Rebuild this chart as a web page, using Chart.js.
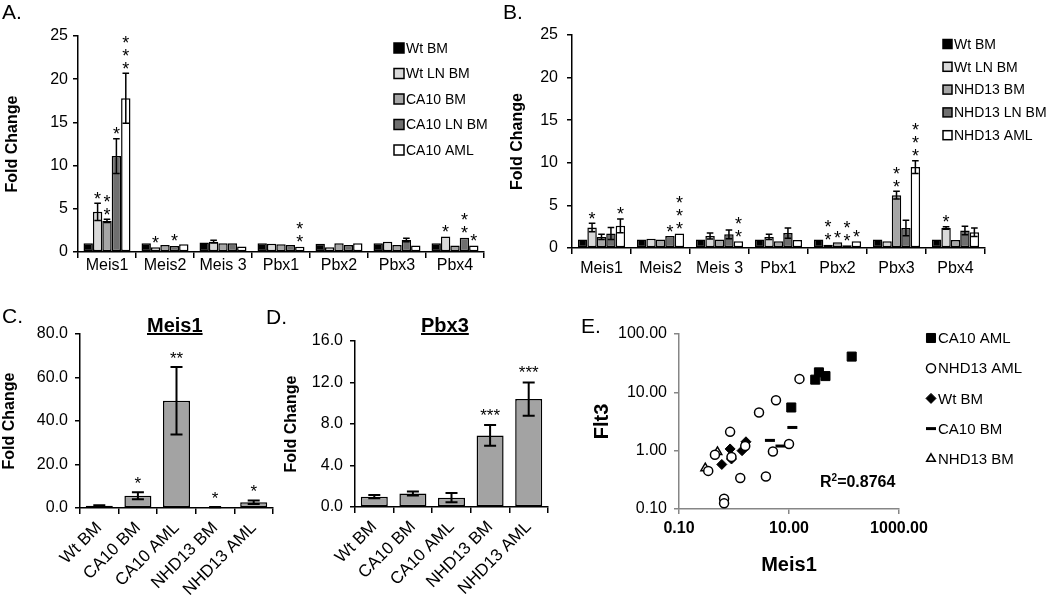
<!DOCTYPE html>
<html>
<head>
<meta charset="utf-8">
<script src="https://cdn.jsdelivr.net/npm/chart.js@4/dist/chart.umd.min.js"></script>
<style>
  body { margin: 0; background: #fff; font-family: 'Liberation Sans', Arial, sans-serif; }
  #page { position: relative; width: 1050px; height: 595px; overflow: hidden; }
  canvas, .lbl { position: absolute; }
  .lbl { font-size: 21px; line-height: 1; color: #000; white-space: nowrap; }
  .ttl { font-size: 20px; font-weight: bold; text-decoration: underline; }
  .r2 { font-size: 16px; font-weight: bold; }
</style>
</head>
<body>
<div id="page">
  <canvas id="chartA" width="500" height="290" style="left:0px;top:0px"></canvas>
  <canvas id="chartB" width="550" height="290" style="left:500px;top:0px"></canvas>
  <canvas id="chartC" width="280" height="305" style="left:0px;top:290px"></canvas>
  <canvas id="chartD" width="280" height="305" style="left:280px;top:290px"></canvas>
  <canvas id="chartE" width="490" height="305" style="left:560px;top:290px"></canvas>

  <div class="lbl" style="left:2px;top:1px">A.</div>
  <div class="lbl" style="left:503px;top:1px">B.</div>
  <div class="lbl" style="left:2px;top:305px">C.</div>
  <div class="lbl" style="left:266px;top:306px">D.</div>
  <div class="lbl" style="left:581px;top:315px">E.</div>
  <div class="lbl ttl" style="left:147px;top:315px">Meis1</div>
  <div class="lbl ttl" style="left:421px;top:315px">Pbx3</div>
  <div class="lbl r2" style="left:820px;top:473px">R<sup style="font-size:10px">2</sup>=0.8764</div>
</div>
<script>
// ---- data ----
var genes = ['Meis1', 'Meis2', 'Meis 3', 'Pbx1', 'Pbx2', 'Pbx3', 'Pbx4'];

// A. CA10 model
var wtBmA    = [1.0, 1.0, 1.1, 1.0, 0.95, 1.0, 1.0];
var wtLnA    = [4.65, 0.55, 1.2, 0.95, 0.55, 1.2, 1.8];
var ca10BmA  = [3.6, 0.8, 1.0, 0.9, 1.0, 0.8, 0.75];
var ca10LnA  = [11.1, 0.7, 1.0, 0.8, 0.8, 1.4, 1.65];
var ca10AmlA = [17.8, 0.9, 0.65, 0.6, 1.0, 0.75, 0.75];
var errWtLnA    = [1.0, 0, 0.15, 0, 0, 0, 0];
var errCa10BmA  = [0.2, 0, 0, 0, 0, 0, 0];
var errCa10LnA  = [2.0, 0, 0, 0, 0, 0.2, 0];
var errCa10AmlA = [2.9, 0, 0, 0, 0, 0, 0];
var starWtLnA    = ['*', '*', '', '', '', '', '*'];
var starCa10BmA  = ['**', '', '', '', '', '', ''];
var starCa10LnA  = ['*', '*', '', '', '', '', '**'];
var starCa10AmlA = ['***', '', '', '**', '', '', '*'];

// B. NHD13 model
var wtBmB     = [1.0, 1.0, 1.0, 1.0, 1.0, 1.0, 1.0];
var wtLnB     = [2.4, 1.1, 1.4, 1.3, 0.37, 0.8, 2.35];
var nhd13BmB  = [1.3, 1.0, 1.0, 0.8, 0.68, 6.2, 0.95];
var nhd13LnB  = [1.7, 1.4, 1.6, 1.75, 0.33, 2.35, 2.05];
var nhd13AmlB = [2.6, 1.7, 0.8, 0.95, 0.8, 9.5, 1.85];
var errWtLnB     = [0.5, 0, 0.35, 0.3, 0, 0, 0.15];
var errNhd13BmB  = [0.3, 0, 0, 0, 0, 0.45, 0];
var errNhd13LnB  = [0.7, 0, 0.5, 0.6, 0, 0.9, 0.5];
var errNhd13AmlB = [0.8, 0, 0, 0, 0, 0.75, 0.5];
var starWtLnB     = ['*', '', '', '', '**', '', '*'];
var starNhd13BmB  = ['', '', '', '', '*', '**', ''];
var starNhd13LnB  = ['', '*', '', '', '**', '', ''];
var starNhd13AmlB = ['*', '***', '**', '', '*', '***', ''];

// C. / D.
var groupsCD = ['Wt BM', 'CA10 BM', 'CA10 AML', 'NHD13 BM', 'NHD13 AML'];
var meis1C = [1.0, 5.6, 49.3, 0.4, 2.6];
var errMeis1C = [0.3, 1.6, 15.5, 0.1, 0.8];
var starMeis1C = ['', '*', '**', '*', '*'];
var pbx3D = [1.0, 1.3, 0.9, 6.9, 10.4];
var errPbx3D = [0.15, 0.2, 0.45, 1.0, 1.6];
var starPbx3D = ['', '', '', '***', '***'];

// E. Meis1 vs Flt3
var ca10AmlMeis1  = [138, 30, 35, 46, 11];
var ca10AmlFlt3   = [41, 16.5, 22, 19, 5.5];
var nhd13AmlMeis1 = [15.5, 5.8, 2.85, 0.85, 10, 5.1, 3.8, 1.3, 0.66, 0.66, 0.34, 0.45, 0.9, 1.6];
var nhd13AmlFlt3  = [17, 7.3, 4.5, 2.1, 1.3, 0.97, 0.36, 0.34, 0.15, 0.125, 0.45, 0.85, 0.78, 1.2];
var wtBmMeis1     = [0.6, 0.85, 0.9, 1.4, 1.65];
var wtBmFlt3      = [0.58, 1.07, 0.72, 1.0, 1.42];
var ca10BmMeis1   = [11.5, 4.5, 7.0];
var ca10BmFlt3    = [2.5, 1.5, 1.2];
var nhd13BmMeis1  = [0.3, 0.5];
var nhd13BmFlt3   = [0.5, 0.95];

var FONT = "'Liberation Sans', Arial, sans-serif";
Chart.defaults.font.family = FONT;
Chart.defaults.color = '#000';
Chart.defaults.animation = false;
Chart.defaults.plugins.legend.display = false;
Chart.defaults.plugins.tooltip.enabled = false;

// error bars drawn from the bar elements
var errorBars = {
  id: 'errorBars',
  afterDatasetsDraw(chart, args, o) {
    var ctx = chart.ctx, y = chart.scales.y;
    ctx.save();
    ctx.strokeStyle = '#000';
    ctx.lineWidth = o.width;
    chart.data.datasets.forEach(function (ds, i) {
      if (!ds.errors) return;
      chart.getDatasetMeta(i).data.forEach(function (bar, j) {
        var e = ds.errors[j];
        if (!e) return;
        var v = ds.data[j];
        var t = y.getPixelForValue(v + e), b = y.getPixelForValue(Math.max(v - e, 0));
        var c = o.cap ? o.cap : bar.width * 0.35;
        ctx.beginPath();
        ctx.moveTo(bar.x, t); ctx.lineTo(bar.x, b);
        ctx.moveTo(bar.x - c, t); ctx.lineTo(bar.x + c, t);
        ctx.moveTo(bar.x - c, b); ctx.lineTo(bar.x + c, b);
        ctx.stroke();
      });
    });
    ctx.restore();
  }
};

// significance asterisks
var starMarks = {
  id: 'stars',
  afterDatasetsDraw(chart, args, o) {
    var ctx = chart.ctx, y = chart.scales.y;
    ctx.save();
    ctx.fillStyle = '#000';
    ctx.textAlign = 'center';
    ctx.textBaseline = 'alphabetic';
    ctx.font = o.size + 'px ' + FONT;
    chart.data.datasets.forEach(function (ds, i) {
      if (!ds.stars) return;
      chart.getDatasetMeta(i).data.forEach(function (bar, j) {
        var s = ds.stars[j];
        if (!s) return;
        var e = ds.errors ? (ds.errors[j] || 0) : 0;
        var top = y.getPixelForValue(ds.data[j] + e) - o.gap;
        var rows = o.stacked ? s.split('') : [s];
        rows.forEach(function (r, k) {
          ctx.fillText(r, bar.x, top - k * o.step + 0.58 * o.size);
        });
      });
    });
    ctx.restore();
  }
};

// legend at a fixed spot
var boxLegend = {
  id: 'boxLegend',
  afterDraw(chart, args, o) {
    var ctx = chart.ctx;
    ctx.save();
    ctx.font = o.size + 'px ' + FONT;
    ctx.textBaseline = 'middle';
    ctx.textAlign = 'left';
    chart.data.datasets.forEach(function (ds, i) {
      var cy = o.y + i * o.step;
      if (o.points) {
        ctx.fillStyle = ds.backgroundColor;
        ctx.strokeStyle = ds.borderColor;
        ctx.lineWidth = ds.borderWidth;
        Chart.helpers.drawPoint(ctx, { pointStyle: ds.pointStyle, radius: ds.pointRadius, borderWidth: ds.borderWidth, rotation: 0 }, o.x, cy);
      } else {
        ctx.fillStyle = ds.backgroundColor;
        ctx.fillRect(o.x, cy - o.box / 2, o.box, o.box);
        ctx.strokeStyle = '#000';
        ctx.lineWidth = 1.5;
        ctx.strokeRect(o.x, cy - o.box / 2, o.box, o.box);
      }
      ctx.fillStyle = '#000';
      ctx.fillText(ds.label, o.tx, cy + 1);
    });
    ctx.restore();
  }
};

function barSet(label, color, data, errors, stars) {
  return { label: label, data: data, errors: errors, stars: stars, backgroundColor: color,
           borderColor: '#000', borderWidth: 1.5, borderSkipped: false };
}

function barChart(id, c) {
  return new Chart(document.getElementById(id), {
    type: 'bar',
    data: { labels: c.labels, datasets: c.datasets },
    options: {
      responsive: false,
      layout: { padding: c.pad },
      datasets: { bar: { categoryPercentage: c.cat, barPercentage: 1 } },
      scales: {
        x: {
          grid: { offset: true, drawOnChartArea: false, tickLength: 6, color: '#000', lineWidth: 1.5 },
          border: { color: '#000', width: 1.5 },
          ticks: { font: { size: c.xSize }, padding: c.xPad, minRotation: c.rot, maxRotation: c.rot, autoSkip: false },
          afterFit: function (s) { s.height = c.xh; }
        },
        y: {
          min: 0, max: c.max,
          grid: { drawOnChartArea: false, tickLength: 5, color: '#000', lineWidth: 1.5 },
          border: { color: '#000', width: 1.5 },
          ticks: { stepSize: c.step, font: { size: 16 }, padding: c.yPad, callback: c.fmt },
          title: { display: true, text: 'Fold Change', font: { size: 16, weight: 'bold' }, padding: { top: c.tPad, bottom: 0 } },
          afterFit: function (s) { s.width = c.yw; }
        }
      },
      plugins: { errorBars: c.err, stars: c.stars, boxLegend: c.legend }
    },
    plugins: [errorBars, starMarks, boxLegend]
  });
}

var BLACK = '#000000', LIGHT = '#d9d9d9', MID = '#a6a6a6', DARK = '#6f6f6f', WHITE = '#ffffff';

barChart('chartA', {
  labels: genes,
  datasets: [
    barSet('Wt BM', BLACK, wtBmA, null, null),
    barSet('Wt LN BM', LIGHT, wtLnA, errWtLnA, starWtLnA),
    barSet('CA10 BM', MID, ca10BmA, errCa10BmA, starCa10BmA),
    barSet('CA10 LN BM', DARK, ca10LnA, errCa10LnA, starCa10LnA),
    barSet('CA10 AML', WHITE, ca10AmlA, errCa10AmlA, starCa10AmlA)
  ],
  pad: { left: 0, top: 36, right: 16, bottom: 0 }, cat: 0.81,
  xh: 38, yw: 78, xSize: 16, xPad: -2, rot: 0, max: 25, step: 5, yPad: 5, tPad: 3,
  fmt: function (v) { return v; },
  err: { width: 1.5 }, stars: { size: 18, gap: 9, step: 13, stacked: true },
  legend: { x: 394, tx: 406, y: 48, step: 25.5, box: 10, size: 14 }
});

barChart('chartB', {
  labels: genes,
  datasets: [
    barSet('Wt BM', BLACK, wtBmB, null, null),
    barSet('Wt LN BM', LIGHT, wtLnB, errWtLnB, starWtLnB),
    barSet('NHD13 BM', MID, nhd13BmB, errNhd13BmB, starNhd13BmB),
    barSet('NHD13 LN BM', DARK, nhd13LnB, errNhd13LnB, starNhd13LnB),
    barSet('NHD13 AML', WHITE, nhd13AmlB, errNhd13AmlB, starNhd13AmlB)
  ],
  pad: { left: 0, top: 35, right: 65, bottom: 0 }, cat: 0.8,
  xh: 42, yw: 72, xSize: 16, xPad: 5, rot: 0, max: 25, step: 5, yPad: 9, tPad: 8,
  fmt: function (v) { return v; },
  err: { width: 1.5 }, stars: { size: 18, gap: 9, step: 13, stacked: true },
  legend: { x: 443, tx: 454, y: 44, step: 22.8, box: 9, size: 14 }
});

barChart('chartC', {
  labels: groupsCD,
  datasets: [barSet('Meis1', '#a3a3a3', meis1C, errMeis1C, starMeis1C)],
  pad: { left: 0, top: 44, right: 7, bottom: 0 }, cat: 0.7,
  xh: 87, yw: 80, xSize: 17, xPad: 4, rot: 45, max: 80, step: 20, yPad: 7, tPad: 0,
  fmt: function (v) { return v.toFixed(1); },
  err: { width: 2, cap: 6 }, stars: { size: 17, gap: 13, step: 0, stacked: false },
  legend: false
});

barChart('chartD', {
  labels: groupsCD,
  datasets: [barSet('Pbx3', '#a3a3a3', pbx3D, errPbx3D, starPbx3D)],
  pad: { left: 0, top: 51, right: 12, bottom: 0 }, cat: 0.7,
  xh: 88, yw: 75, xSize: 17, xPad: 4, rot: 45, max: 16, step: 4, yPad: 7, tPad: 2,
  fmt: function (v) { return v.toFixed(1); },
  err: { width: 2, cap: 6 }, stars: { size: 17, gap: 14, step: 0, stacked: false },
  legend: false
});

function pts(xs, ys) {
  return xs.map(function (x, i) { return { x: x, y: ys[i] }; });
}

var AXIS_GREY = '#868686';
new Chart(document.getElementById('chartE'), {
  type: 'scatter',
  data: {
    datasets: [
      { label: 'CA10 AML', data: pts(ca10AmlMeis1, ca10AmlFlt3), pointStyle: 'rect', pointRadius: 6.4,
        backgroundColor: '#000', borderColor: '#000', borderWidth: 1 },
      { label: 'NHD13 AML', data: pts(nhd13AmlMeis1, nhd13AmlFlt3), pointStyle: 'circle', pointRadius: 4.5,
        backgroundColor: '#fff', borderColor: '#000', borderWidth: 1.5 },
      { label: 'Wt BM', data: pts(wtBmMeis1, wtBmFlt3), pointStyle: 'rectRot', pointRadius: 5,
        backgroundColor: '#000', borderColor: '#000', borderWidth: 1 },
      { label: 'CA10 BM', data: pts(ca10BmMeis1, ca10BmFlt3), pointStyle: 'line', pointRadius: 5,
        backgroundColor: '#000', borderColor: '#000', borderWidth: 3 },
      { label: 'NHD13 BM', data: pts(nhd13BmMeis1, nhd13BmFlt3), pointStyle: 'triangle', pointRadius: 5,
        backgroundColor: '#fff', borderColor: '#000', borderWidth: 1.5 }
    ]
  },
  options: {
    responsive: false,
    layout: { padding: { left: 0, top: 44, right: 151, bottom: 0 } },
    scales: {
      x: {
        type: 'logarithmic', min: 0.1, max: 1000,
        afterBuildTicks: function (a) { a.ticks = [0.1, 10, 1000].map(function (v) { return { value: v }; }); },
        grid: { drawOnChartArea: false, tickLength: 5, color: AXIS_GREY, lineWidth: 1.5 },
        border: { color: AXIS_GREY, width: 1.5 },
        ticks: { font: { size: 16, weight: 'bold' }, padding: 5, callback: function (v) { return Number(v).toFixed(2); } },
        title: { display: true, text: 'Meis1', font: { size: 20, weight: 'bold' }, padding: { top: 0, bottom: 18 } },
        afterFit: function (s) { s.height = 86; }
      },
      y: {
        type: 'logarithmic', min: 0.1, max: 100,
        afterBuildTicks: function (a) { a.ticks = [0.1, 1, 10, 100].map(function (v) { return { value: v }; }); },
        grid: { drawOnChartArea: false, tickLength: 5, color: AXIS_GREY, lineWidth: 1.5 },
        border: { color: AXIS_GREY, width: 1.5 },
        ticks: { font: { size: 16 }, padding: 7, callback: function (v) { return Number(v).toFixed(2); } },
        title: { display: true, text: 'Flt3', font: { size: 20, weight: 'bold' }, padding: { top: 30, bottom: 0 } },
        afterFit: function (s) { s.width = 119; }
      }
    },
    plugins: { boxLegend: { points: true, x: 371, tx: 378, y: 48, step: 30.2, size: 15 } }
  },
  plugins: [boxLegend]
});
</script>
</body>
</html>
